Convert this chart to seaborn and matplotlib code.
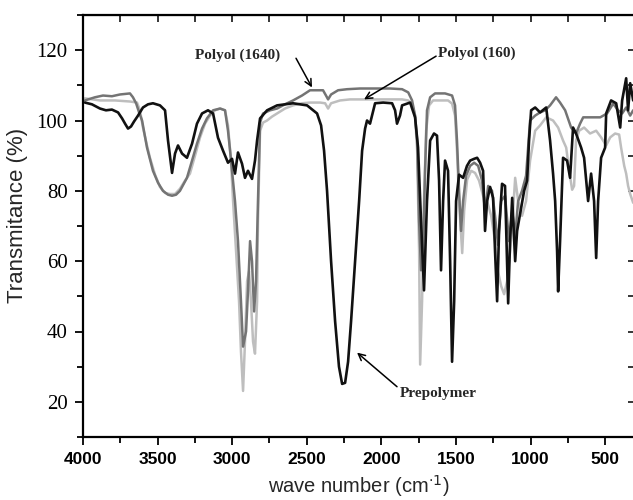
import matplotlib.pyplot as plt
import matplotlib.ticker as mticker
import seaborn as sns
import pandas as pd

# FTIR spectra, wave numbers (cm-1) and transmittance (%)
prepolymer_wn = [3987, 3940, 3886, 3846, 3806, 3765, 3738, 3718, 3698, 3678, 3658, 3631, 3598, 3564,
                 3531, 3484, 3450, 3430, 3403, 3383, 3363, 3336, 3303, 3269, 3236, 3202, 3162, 3128,
                 3095, 3061, 3028, 3001, 2981, 2961, 2934, 2914, 2894, 2867, 2847, 2833, 2813, 2766,
                 2699, 2592, 2498, 2431, 2404, 2384, 2364, 2337, 2310, 2284, 2263, 2243, 2223, 2203,
                 2176, 2149, 2129, 2109, 2096, 2076, 2042, 1988, 1928, 1908, 1895, 1875, 1861, 1807,
                 1774, 1754, 1734, 1714, 1694, 1673, 1647, 1627, 1613, 1600, 1586, 1573, 1553, 1539,
                 1526, 1512, 1499, 1479, 1452, 1426, 1405, 1378, 1358, 1338, 1318, 1305, 1291, 1271,
                 1251, 1238, 1224, 1211, 1191, 1171, 1150, 1137, 1123, 1103, 1090, 1070, 1043, 1023,
                 1010, 996, 969, 936, 895, 869, 849, 835, 822, 815, 802, 788, 782, 755, 735, 715, 695,
                 661, 641, 614, 594, 574, 560, 547, 527, 500, 493, 460, 426, 399, 386, 359, 346, 332, 312]
prepolymer_t = [105.1, 104.6, 103.4, 102.9, 103.1, 102.3, 100.6, 99.1, 97.7, 98.3, 99.7, 101.4, 103.7, 104.6,
                104.9, 104.3, 102.9, 94.3, 85.1, 90.6, 92.9, 90.6, 89.4, 93.4, 99.1, 102.0, 102.9, 102.0,
                95.1, 91.4, 88.0, 89.1, 84.9, 90.9, 87.7, 83.7, 85.7, 83.4, 88.6, 94.3, 100.6, 102.9,
                104.3, 104.9, 104.3, 102.0, 98.6, 91.4, 80.0, 60.0, 42.9, 30.0, 25.1, 25.4, 31.4, 42.9,
                60.0, 77.1, 91.4, 97.7, 100.0, 99.1, 104.9, 105.1, 104.9, 102.9, 99.1, 101.4, 104.3, 105.1,
                100.9, 92.3, 71.4, 51.7, 77.1, 94.3, 96.3, 95.7, 82.9, 57.4, 77.1, 88.6, 85.7, 60.0,
                31.4, 48.6, 77.1, 84.6, 83.7, 87.1, 88.6, 89.1, 89.4, 88.0, 85.7, 68.6, 77.1, 81.1,
                78.0, 62.9, 48.6, 68.6, 82.0, 81.4, 48.0, 65.7, 78.0, 60.0, 68.6, 73.4, 80.0, 82.9,
                94.3, 102.9, 103.7, 102.3, 103.7, 94.3, 84.9, 77.1, 62.9, 51.4, 65.7, 82.9, 89.4, 88.6,
                83.7, 98.0, 96.3, 92.3, 89.4, 77.1, 84.9, 77.1, 60.9, 77.1, 89.4, 92.3, 102.0, 105.7,
                104.9, 98.0, 105.7, 112.0, 102.9, 110.6, 105.7]

polyol1640_wn = [3987, 3920, 3866, 3806, 3752, 3685, 3665, 3644, 3624, 3604, 3571, 3531, 3497, 3464,
                 3430, 3403, 3376, 3350, 3303, 3269, 3236, 3202, 3169, 3128, 3081, 3048, 3028, 3014,
                 3001, 2981, 2961, 2941, 2927, 2907, 2894, 2880, 2867, 2853, 2840, 2827, 2813, 2793,
                 2746, 2699, 2646, 2592, 2532, 2478, 2424, 2391, 2371, 2357, 2337, 2290, 2230, 2143,
                 2042, 1942, 1861, 1820, 1794, 1774, 1760, 1747, 1734, 1720, 1707, 1694, 1673, 1640,
                 1573, 1526, 1506, 1493, 1479, 1466, 1452, 1432, 1405, 1378, 1351, 1325, 1305, 1284,
                 1258, 1238, 1218, 1197, 1171, 1144, 1123, 1103, 1083, 1057, 1030, 1003, 969, 936, 902,
                 869, 829, 802, 768, 728, 695, 668, 647, 601, 533, 487, 446, 413, 386, 359, 332, 312]
polyol1640_t = [105.7, 106.6, 107.1, 106.9, 107.4, 107.7, 106.6, 104.9, 102.3, 100.0, 92.3, 85.7, 82.3, 80.0,
                78.9, 78.6, 78.9, 80.0, 83.7, 88.6, 93.4, 97.7, 100.6, 102.9, 103.4, 102.9, 97.1, 91.4,
                85.7, 77.1, 65.7, 48.6, 35.7, 40.0, 51.4, 65.7, 60.0, 45.7, 54.3, 77.1, 99.4, 102.0,
                102.9, 103.4, 104.6, 105.7, 107.1, 108.6, 108.6, 108.6, 107.1, 106.0, 107.4, 108.6, 108.9, 109.1,
                109.1, 109.1, 108.9, 108.0, 105.7, 101.4, 94.3, 71.4, 57.4, 62.9, 85.7, 102.9, 106.6, 107.7,
                107.7, 107.1, 104.3, 94.3, 80.0, 68.6, 77.1, 84.3, 87.1, 88.0, 87.1, 82.9, 74.3, 81.4,
                80.0, 72.9, 64.6, 77.1, 78.6, 65.7, 74.3, 67.1, 77.1, 80.0, 84.3, 100.0, 101.4, 102.3, 102.9,
                104.3, 106.6, 105.1, 102.9, 98.0, 96.3, 99.1, 100.9, 100.9, 100.9, 102.0, 104.8, 102.9, 102.0, 103.7,
                101.4, 102.9]

polyol160_wn = [3987, 3886, 3785, 3685, 3638, 3618, 3598, 3571, 3551, 3517, 3484, 3450, 3417, 3383,
                3350, 3316, 3283, 3249, 3216, 3182, 3148, 3115, 3081, 3048, 3028, 3008, 2994, 2974,
                2954, 2941, 2927, 2914, 2900, 2887, 2874, 2860, 2847, 2833, 2827, 2813, 2793, 2766,
                2733, 2699, 2646, 2592, 2532, 2478, 2411, 2377, 2357, 2337, 2277, 2210, 2123, 2042,
                1942, 1861, 1820, 1794, 1774, 1760, 1747, 1740, 1727, 1714, 1700, 1680, 1653, 1606,
                1553, 1526, 1506, 1493, 1479, 1458, 1445, 1425, 1398, 1372, 1345, 1318, 1291, 1264,
                1238, 1218, 1197, 1177, 1157, 1137, 1117, 1103, 1083, 1057, 1030, 1003, 969, 936, 895,
                849, 815, 782, 761, 741, 721, 708, 695, 674, 641, 601, 560, 527, 493, 466, 433, 406,
                393, 372, 359, 346, 332, 312]
polyol160_t = [106.3, 105.7, 105.7, 105.4, 105.1, 102.9, 98.0, 92.9, 89.4, 84.6, 81.1, 79.4, 79.1, 79.1,
               80.6, 82.9, 84.9, 90.0, 95.1, 99.1, 101.4, 102.9, 103.4, 102.9, 98.6, 88.6, 77.1, 62.9,
               48.6, 34.3, 23.1, 37.1, 54.3, 57.1, 48.6, 37.1, 33.7, 48.6, 71.4, 97.1, 99.4, 100.0,
               101.1, 102.0, 103.4, 104.3, 104.9, 105.1, 105.1, 104.9, 103.4, 104.9, 105.7, 106.0, 106.0, 106.0,
               106.0, 106.0, 105.7, 104.6, 101.4, 91.4, 62.9, 30.6, 48.6, 77.1, 97.1, 104.3, 105.7, 105.7,
               105.7, 104.8, 101.4, 91.4, 77.1, 62.3, 74.3, 83.2, 85.7, 85.1, 82.9, 78.6, 77.1, 72.9,
               65.7, 57.1, 52.9, 50.6, 54.3, 62.9, 74.3, 83.7, 77.1, 72.9, 77.1, 88.6, 97.1, 98.6, 100.9,
               100.0, 98.0, 94.3, 92.3, 85.7, 80.3, 81.4, 94.3, 97.1, 98.0, 96.3, 97.1, 95.2, 92.9, 95.2, 96.3, 96.0,
               92.3, 87.1, 84.9, 81.4, 79.1, 76.6]

sns.set_style('ticks')
plt.rcParams['font.family'] = ['Liberation Sans', 'DejaVu Sans']

fig = plt.figure(figsize=(6.33, 5.0), dpi=100)
ax = fig.add_axes([0.1311, 0.126, 0.872, 0.844])

# lighter traces first so the prepolymer sits on top
sns.lineplot(x=polyol160_wn, y=polyol160_t, sort=False, estimator=None, ax=ax,
             color='#bebebe', linewidth=1.8)
sns.lineplot(x=polyol1640_wn, y=polyol1640_t, sort=False, estimator=None, ax=ax,
             color='#747474', linewidth=1.8)
sns.lineplot(x=prepolymer_wn, y=prepolymer_t, sort=False, estimator=None, ax=ax,
             color='#111111', linewidth=1.9)

ax.set_xlim(4000, 300)
ax.set_ylim(10, 130)

ax.xaxis.set_major_locator(mticker.MultipleLocator(500))
ax.xaxis.set_minor_locator(mticker.MultipleLocator(250))
ax.yaxis.set_major_locator(mticker.FixedLocator([20, 40, 60, 80, 100, 120]))
ax.yaxis.set_minor_locator(mticker.MultipleLocator(10))

ax.tick_params(axis='both', which='major', direction='out', length=6, width=1.3, colors='black')
ax.tick_params(axis='both', which='minor', direction='out', length=4, width=1.3, colors='black')
ax.tick_params(axis='x', labelsize=12.5, pad=5)
ax.tick_params(axis='y', labelsize=15, pad=5)
for lab in ax.get_xticklabels():
    lab.set_fontweight('bold')
for lab in ax.get_yticklabels():
    lab.set_fontfamily(['Liberation Serif', 'DejaVu Serif'])

# mirrored ticks pointing inward on top and right
top = ax.secondary_xaxis('top')
top.xaxis.set_major_locator(mticker.MultipleLocator(500))
top.xaxis.set_minor_locator(mticker.MultipleLocator(250))
top.tick_params(which='both', direction='in', length=5, width=1.3, labeltop=False)
right = ax.secondary_yaxis('right')
right.yaxis.set_major_locator(mticker.FixedLocator([20, 40, 60, 80, 100, 120]))
right.yaxis.set_minor_locator(mticker.MultipleLocator(10))
right.tick_params(which='both', direction='in', length=5, width=1.3, labelright=False)

for sp in ax.spines.values():
    sp.set_linewidth(1.6)
    sp.set_color('black')

ax.set_xlabel('wave number (cm$^{\\cdot 1}$)', fontsize=14.5, labelpad=4)
ax.set_ylabel('Transmitance (%)', fontsize=16)
ax.yaxis.set_label_coords(-0.10, 0.525)

# annotations
label_font = dict(fontsize=11, fontweight='bold', family=['Liberation Serif', 'DejaVu Serif'],
                  ha='center', va='center')
arrow = dict(arrowstyle='->', color='black', lw=1.1, shrinkA=0, shrinkB=0, mutation_scale=12)

ax.text(2961, 118.6, 'Polyol (1640)', **label_font)
ax.annotate('', xy=(2465, 109.4), xytext=(2572, 117.7), arrowprops=arrow)

ax.text(1358, 119.1, 'Polyol (160)', **label_font)
ax.annotate('', xy=(2116, 106.0), xytext=(1633, 118.3), arrowprops=arrow)

ax.text(1620, 22.3, 'Prepolymer', **label_font)
ax.annotate('', xy=(2163, 34.0), xytext=(1895, 24.3), arrowprops=arrow)

fig.savefig('out.png', dpi=100)
